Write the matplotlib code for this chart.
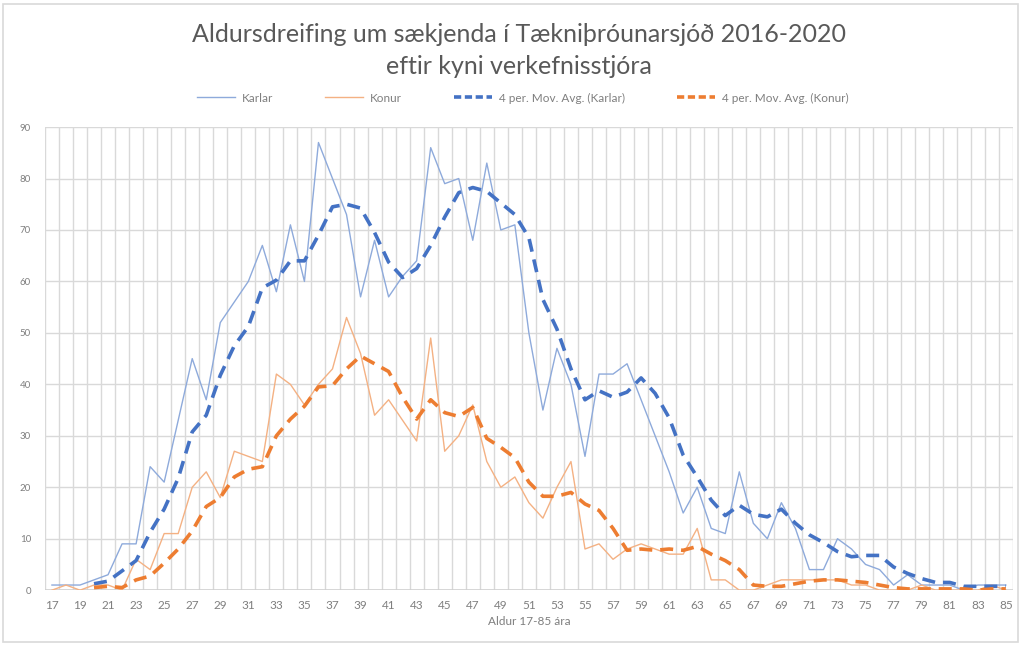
import numpy as np
import matplotlib
matplotlib.use("Agg")
import matplotlib.pyplot as plt
from matplotlib.lines import Line2D
from matplotlib.patches import Rectangle

ages = list(range(17, 86))
karlar = [1, 1, 1, 2, 3, 9, 9, 24, 21, 33, 45, 37, 52, 56, 60, 67, 58, 71, 60, 87,
          80, 73, 57, 68, 57, 61, 64, 86, 79, 80, 68, 83, 70, 71, 50, 35, 47, 40, 26, 42,
          42, 44, 37, 30, 23, 15, 20, 12, 11, 23, 13, 10, 17, 12, 4, 4, 10, 8, 5, 4,
          1, 3, 1, 1, 1, 0, 1, 1, 1]
konur = [0, 1, 0, 1, 1, 0, 6, 4, 11, 11, 20, 23, 18, 27, 26, 25, 42, 40, 36, 40,
         43, 53, 46, 34, 37, 33, 29, 49, 27, 30, 36, 25, 20, 22, 17, 14, 20, 25, 8, 9,
         6, 8, 9, 8, 7, 7, 12, 2, 2, 0, 0, 1, 2, 2, 2, 2, 2, 1, 1, 0,
         0, 0, 1, 0, 0, 0, 0, 1, 0]
xtick_labels = [str(a) for a in range(17, 86, 2)]

TITLE = "Aldursdreifing um sækjenda í Tækniþróunarsjóð 2016-2020\neftir kyni verkefnisstjóra"
XLABEL = "Aldur 17-85 ára"


def moving_average(values, period=4):
    """Trailing moving average like Excel's trendline; NaN until enough points."""
    vals = np.asarray(values, dtype=float)
    out = np.full(len(vals), np.nan)
    kernel = np.ones(period) / period
    out[period - 1:] = np.convolve(vals, kernel, mode="valid")
    return out


plt.rcParams["font.family"] = ["Lato", "DejaVu Sans"]

fig = plt.figure(figsize=(10.21, 6.45), dpi=100)
fig.patches.append(Rectangle((0.003, 0.004), 0.994, 0.99, transform=fig.transFigure,
                             fill=False, edgecolor="#d9d9d9", linewidth=1.2))
ax = fig.add_axes([0.044, 0.085, 0.948, 0.718])

x = np.array(ages)
ax.plot(x, karlar, color="#8eaadb", linewidth=1.0, label="Karlar")
ax.plot(x, konur, color="#f4b183", linewidth=1.0, label="Konur")
ax.plot(x, moving_average(karlar), color="#4472c4", linewidth=2.6,
        dashes=(3.6, 2.2), label="4 per. Mov. Avg. (Karlar)")
ax.plot(x, moving_average(konur), color="#ed7d31", linewidth=2.6,
        dashes=(3.6, 2.2), label="4 per. Mov. Avg. (Konur)")

ax.set_xlim(16.5, 85.5)
ax.set_ylim(0, 90)
ax.set_yticks(range(0, 91, 10))
ax.set_xticks(range(17, 86, 2))
ax.set_xticklabels(xtick_labels)

# excel style grid: vertical lines between categories
for gx in np.arange(16.5, 86, 1.0):
    ax.axvline(gx, color="#d9d9d9", linewidth=1.0, zorder=0)
for gy in range(10, 91, 10):
    ax.axhline(gy, color="#d9d9d9", linewidth=1.0, zorder=0)
for s in ax.spines.values():
    s.set_visible(False)
ax.axhline(0, color="#d0d0d0", linewidth=1.2, zorder=0)

ax.tick_params(axis="both", length=0, colors="#7f7f7f")
ax.tick_params(axis="y", labelsize=7, pad=10)
ax.tick_params(axis="x", labelsize=8.5, pad=7)
ax.set_xlabel(XLABEL, color="#7f7f7f", fontsize=8.5, labelpad=4)

fig.text(0.508, 0.922, TITLE, ha="center", va="center", fontsize=18,
         color="#595959", linespacing=1.45)

handles = [
    Line2D([], [], color="#8eaadb", linewidth=1.0),
    Line2D([], [], color="#f4b183", linewidth=1.0),
    Line2D([], [], color="#4472c4", linewidth=2.6, dashes=(2.0, 1.0)),
    Line2D([], [], color="#ed7d31", linewidth=2.6, dashes=(2.0, 1.0)),
]
labels = ["Karlar", "Konur", "4 per. Mov. Avg. (Karlar)", "4 per. Mov. Avg. (Konur)"]
leg = fig.legend(handles, labels, loc="center", bbox_to_anchor=(0.512, 0.848), ncol=4,
                 frameon=False, fontsize=8.5, handlelength=3.2, columnspacing=4.4,
                 handletextpad=0.6)
for t in leg.get_texts():
    t.set_color("#7f7f7f")

fig.savefig("out.png", dpi=100)
